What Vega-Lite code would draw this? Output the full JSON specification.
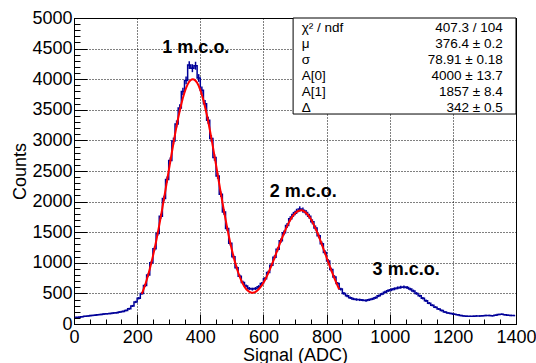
{
  "$schema": "https://vega.github.io/schema/vega-lite/v6.json",
  "width": 442,
  "height": 306,
  "autosize": {"type": "none"},
  "padding": {"left": 74, "top": 18, "right": 20, "bottom": 39},
  "background": "white",
  "config": {
    "font": "Liberation Sans",
    "view": {"stroke": "black", "strokeWidth": 1},
    "axis": {
      "labelFont": "Liberation Sans",
      "titleFont": "Liberation Sans",
      "labelColor": "black",
      "titleColor": "black",
      "domainColor": "black",
      "tickColor": "black",
      "tickWidth": 1,
      "domainWidth": 1,
      "labelFontSize": 18,
      "titleFontSize": 18,
      "titleFontWeight": "normal",
      "labelFlush": false,
      "labelOverlap": false,
      "labelBound": false
    }
  },
  "datasets": {
    "hist": [
      {"x":5,"n":110,"e":10},{"x":15,"n":112,"e":11},{"x":25,"n":118,"e":11},{"x":35,"n":125,"e":11},{"x":45,"n":132,"e":11},
      {"x":55,"n":138,"e":12},{"x":65,"n":142,"e":12},{"x":75,"n":150,"e":12},{"x":85,"n":155,"e":12},{"x":95,"n":162,"e":13},
      {"x":105,"n":168,"e":13},{"x":115,"n":172,"e":13},{"x":125,"n":178,"e":13},{"x":135,"n":185,"e":14},{"x":145,"n":195,"e":14},
      {"x":155,"n":205,"e":14},{"x":165,"n":222,"e":15},{"x":175,"n":250,"e":16},{"x":185,"n":295,"e":17},{"x":195,"n":360,"e":19},
      {"x":205,"n":420,"e":20},{"x":215,"n":500,"e":22},{"x":225,"n":630,"e":25},{"x":235,"n":800,"e":28},{"x":245,"n":1000,"e":32},
      {"x":255,"n":1230,"e":35},{"x":265,"n":1480,"e":38},{"x":275,"n":1760,"e":42},{"x":285,"n":2050,"e":45},{"x":295,"n":2360,"e":49},
      {"x":305,"n":2670,"e":52},{"x":315,"n":2990,"e":55},{"x":325,"n":3270,"e":57},{"x":335,"n":3530,"e":59},{"x":345,"n":3800,"e":62},
      {"x":355,"n":3980,"e":63},{"x":365,"n":4230,"e":65},{"x":375,"n":4180,"e":65},{"x":385,"n":4220,"e":65},{"x":395,"n":4020,"e":63},
      {"x":405,"n":3820,"e":62},{"x":415,"n":3600,"e":60},{"x":425,"n":3330,"e":58},{"x":435,"n":3030,"e":55},{"x":445,"n":2720,"e":52},
      {"x":455,"n":2420,"e":49},{"x":465,"n":2120,"e":46},{"x":475,"n":1830,"e":43},{"x":485,"n":1560,"e":39},{"x":495,"n":1320,"e":36},
      {"x":505,"n":1100,"e":33},{"x":515,"n":920,"e":30},{"x":525,"n":780,"e":28},{"x":535,"n":680,"e":26},{"x":545,"n":620,"e":25},
      {"x":555,"n":580,"e":24},{"x":565,"n":570,"e":24},{"x":575,"n":580,"e":24},{"x":585,"n":610,"e":25},{"x":595,"n":660,"e":26},
      {"x":605,"n":740,"e":27},{"x":615,"n":840,"e":29},{"x":625,"n":960,"e":31},{"x":635,"n":1090,"e":33},{"x":645,"n":1220,"e":35},
      {"x":655,"n":1360,"e":37},{"x":665,"n":1490,"e":39},{"x":675,"n":1610,"e":40},{"x":685,"n":1720,"e":41},{"x":695,"n":1790,"e":42},
      {"x":705,"n":1840,"e":43},{"x":715,"n":1880,"e":43},{"x":725,"n":1860,"e":43},{"x":735,"n":1820,"e":43},{"x":745,"n":1760,"e":42},
      {"x":755,"n":1670,"e":41},{"x":765,"n":1570,"e":40},{"x":775,"n":1440,"e":38},{"x":785,"n":1310,"e":36},{"x":795,"n":1170,"e":34},
      {"x":805,"n":1030,"e":32},{"x":815,"n":890,"e":30},{"x":825,"n":770,"e":28},{"x":835,"n":660,"e":26},{"x":845,"n":570,"e":24},
      {"x":855,"n":500,"e":22},{"x":865,"n":460,"e":21},{"x":875,"n":430,"e":21},{"x":885,"n":410,"e":20},{"x":895,"n":400,"e":20},
      {"x":905,"n":395,"e":20},{"x":915,"n":390,"e":20},{"x":925,"n":385,"e":20},{"x":935,"n":395,"e":20},{"x":945,"n":410,"e":20},
      {"x":955,"n":430,"e":21},{"x":965,"n":460,"e":21},{"x":975,"n":490,"e":22},{"x":985,"n":520,"e":23},{"x":995,"n":545,"e":23},
      {"x":1005,"n":560,"e":24},{"x":1015,"n":575,"e":24},{"x":1025,"n":590,"e":24},{"x":1035,"n":600,"e":24},{"x":1045,"n":605,"e":25},
      {"x":1055,"n":595,"e":24},{"x":1065,"n":570,"e":24},{"x":1075,"n":540,"e":23},{"x":1085,"n":500,"e":22},{"x":1095,"n":460,"e":21},
      {"x":1105,"n":420,"e":20},{"x":1115,"n":380,"e":19},{"x":1125,"n":340,"e":18},{"x":1135,"n":305,"e":17},{"x":1145,"n":275,"e":17},
      {"x":1155,"n":245,"e":16},{"x":1165,"n":220,"e":15},{"x":1175,"n":195,"e":14},{"x":1185,"n":180,"e":13},{"x":1195,"n":170,"e":13},
      {"x":1205,"n":160,"e":13},{"x":1215,"n":150,"e":12},{"x":1225,"n":140,"e":12},{"x":1235,"n":132,"e":11},{"x":1245,"n":128,"e":11},
      {"x":1255,"n":125,"e":11},{"x":1265,"n":128,"e":11},{"x":1275,"n":132,"e":11},{"x":1285,"n":130,"e":11},{"x":1295,"n":135,"e":12},
      {"x":1305,"n":140,"e":12},{"x":1315,"n":138,"e":12},{"x":1325,"n":135,"e":12},{"x":1335,"n":145,"e":12},{"x":1345,"n":155,"e":12},
      {"x":1355,"n":160,"e":13},{"x":1365,"n":150,"e":12},{"x":1375,"n":145,"e":12},{"x":1385,"n":140,"e":12},{"x":1395,"n":138,"e":12}
    ],
    "fit": [
      {"x":215,"f":494},{"x":220,"f":561},{"x":230,"f":716},{"x":240,"f":898},{"x":250,"f":1109},{"x":260,"f":1348},
      {"x":270,"f":1612},{"x":280,"f":1897},{"x":290,"f":2197},{"x":300,"f":2503},{"x":310,"f":2807},{"x":320,"f":3098},
      {"x":330,"f":3365},{"x":340,"f":3596},{"x":350,"f":3782},{"x":360,"f":3915},{"x":370,"f":3987},{"x":376,"f":4000},
      {"x":380,"f":3996},{"x":390,"f":3941},{"x":400,"f":3825},{"x":410,"f":3654},{"x":420,"f":3435},{"x":430,"f":3178},
      {"x":440,"f":2894},{"x":450,"f":2595},{"x":460,"f":2291},{"x":470,"f":1992},{"x":480,"f":1709},{"x":490,"f":1447},
      {"x":500,"f":1213},{"x":510,"f":1011},{"x":520,"f":842},{"x":530,"f":709},{"x":540,"f":610},{"x":550,"f":546},
      {"x":560,"f":515},{"x":565,"f":510},{"x":570,"f":514},{"x":580,"f":542},{"x":590,"f":597},{"x":600,"f":675},
      {"x":610,"f":773},{"x":620,"f":887},{"x":630,"f":1014},{"x":640,"f":1149},{"x":650,"f":1285},{"x":660,"f":1418},
      {"x":670,"f":1543},{"x":680,"f":1652},{"x":690,"f":1742},{"x":700,"f":1808},{"x":710,"f":1847},{"x":720,"f":1857},
      {"x":730,"f":1837},{"x":740,"f":1789},{"x":750,"f":1714},{"x":760,"f":1616},{"x":770,"f":1500},{"x":780,"f":1369},
      {"x":790,"f":1230},{"x":800,"f":1088},{"x":810,"f":947},{"x":820,"f":811},{"x":830,"f":683},{"x":840,"f":566}
    ],
    "stats": [
      {"names": ["χ² / ndf", "μ", "σ", "A[0]", "A[1]", "Δ"],
       "vals": ["407.3 / 104", "376.4 ± 0.2", "78.91 ± 0.18", "4000 ± 13.7", "1857 ± 8.4", "342 ± 0.5"]}
    ],
    "notes": [
      {"t": "1 m.c.o.", "x": 386, "y": 4510},
      {"t": "2 m.c.o.", "x": 726, "y": 2162},
      {"t": "3 m.c.o.", "x": 1052, "y": 882}
    ]
  },
  "resolve": {"axis": {"x": "independent", "y": "independent"}},
  "layer": [
    {
      "data": {"name": "hist"},
      "mark": {"type": "point", "opacity": 0},
      "encoding": {
        "x": {"field": "x", "type": "quantitative", "scale": {"domain": [0, 1400], "nice": false, "zero": false},
          "axis": {"orient": "bottom", "values": [0,50,100,150,200,250,300,350,400,450,500,550,600,650,700,750,800,850,900,950,1000,1050,1100,1150,1200,1250,1300,1350,1400],
            "labels": false, "domain": false, "grid": false, "title": null, "tickSize": -5}},
        "y": {"field": "n", "type": "quantitative", "scale": {"domain": [0, 5000], "nice": false, "zero": false},
          "axis": {"orient": "left", "values": [0,100,200,300,400,500,600,700,800,900,1000,1100,1200,1300,1400,1500,1600,1700,1800,1900,2000,2100,2200,2300,2400,2500,2600,2700,2800,2900,3000,3100,3200,3300,3400,3500,3600,3700,3800,3900,4000,4100,4200,4300,4400,4500,4600,4700,4800,4900,5000],
            "labels": false, "domain": false, "grid": false, "title": null, "tickSize": -6}}
      }
    },
    {
      "data": {"name": "hist"},
      "mark": {"type": "line", "interpolate": "step", "color": "#000099", "strokeWidth": 1.5},
      "encoding": {
        "x": {"field": "x", "type": "quantitative", "scale": {"domain": [0, 1400], "nice": false, "zero": false},
          "axis": {"orient": "bottom", "values": [0,200,400,600,800,1000,1200,1400], "format": "d", "title": "Signal (ADC)",
            "titlePadding": 0, "labelPadding": 14, "tickSize": -10,
            "grid": true, "gridColor": "black", "gridDash": [1, 2], "gridOpacity": 1, "gridWidth": 1}},
        "y": {"field": "n", "type": "quantitative", "scale": {"domain": [0, 5000], "nice": false, "zero": false},
          "axis": {"orient": "left", "values": [0,500,1000,1500,2000,2500,3000,3500,4000,4500,5000], "format": "d", "title": "Counts",
            "titlePadding": 2, "labelPadding": 15, "tickSize": -13,
            "grid": true, "gridColor": "black", "gridDash": [1, 2], "gridOpacity": 1, "gridWidth": 1}}
      }
    },
    {
      "data": {"name": "hist"},
      "mark": {"type": "errorbar", "color": "#000099", "thickness": 1.5},
      "encoding": {
        "x": {"field": "x", "type": "quantitative", "axis": null},
        "y": {"field": "n", "type": "quantitative", "axis": null},
        "yError": {"field": "e"}
      }
    },
    {
      "data": {"name": "fit"},
      "mark": {"type": "line", "interpolate": "monotone", "color": "#ff0000", "strokeWidth": 2},
      "encoding": {
        "x": {"field": "x", "type": "quantitative", "axis": null},
        "y": {"field": "f", "type": "quantitative", "axis": null}
      }
    },
    {
      "data": {"values": [{}]},
      "mark": {"type": "rect", "fill": "white", "stroke": "black", "strokeWidth": 1},
      "encoding": {
        "x": {"datum": 694, "type": "quantitative", "axis": null},
        "x2": {"datum": 1400},
        "y": {"datum": 5000, "type": "quantitative", "axis": null},
        "y2": {"datum": 3431}
      }
    },
    {
      "data": {"name": "stats"},
      "mark": {"type": "text", "align": "left", "baseline": "alphabetic", "fontSize": 13.5, "lineHeight": 16, "font": "Liberation Sans", "color": "black"},
      "encoding": {
        "x": {"datum": 721, "type": "quantitative", "axis": null},
        "y": {"datum": 4771, "type": "quantitative", "axis": null},
        "text": {"field": "names", "type": "nominal"}
      }
    },
    {
      "data": {"name": "stats"},
      "mark": {"type": "text", "align": "right", "baseline": "alphabetic", "fontSize": 13.5, "lineHeight": 16, "font": "Liberation Sans", "color": "black"},
      "encoding": {
        "x": {"datum": 1358, "type": "quantitative", "axis": null},
        "y": {"datum": 4771, "type": "quantitative", "axis": null},
        "text": {"field": "vals", "type": "nominal"}
      }
    },
    {
      "data": {"name": "notes"},
      "mark": {"type": "text", "align": "center", "baseline": "middle", "fontSize": 18, "fontWeight": "bold", "font": "Liberation Sans", "color": "black"},
      "encoding": {
        "x": {"field": "x", "type": "quantitative", "axis": null},
        "y": {"field": "y", "type": "quantitative", "axis": null},
        "text": {"field": "t", "type": "nominal"}
      }
    }
  ]
}
